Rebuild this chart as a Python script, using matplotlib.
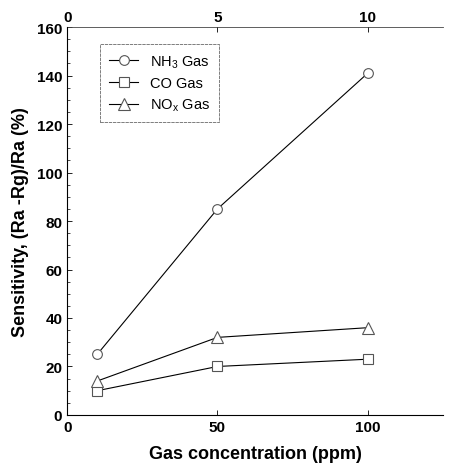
import matplotlib
matplotlib.use("Agg")
import matplotlib.pyplot as plt
from matplotlib.ticker import MultipleLocator

plt.rcParams['font.family'] = ['Liberation Sans', 'DejaVu Sans']
plt.rcParams['mathtext.fontset'] = 'custom'
plt.rcParams['mathtext.rm'] = 'Liberation Sans'

# gas concentration (ppm) and sensitivity (%)
conc = [10, 50, 100]
nh3 = [25, 85, 141]
co = [10, 20, 23]
nox = [14, 32, 36]
top_ticks = [0, 5, 10]

fig = plt.figure(figsize=(4.51, 4.77), dpi=100)
ax = fig.add_axes([0.149, 0.128, 0.833, 0.813])

ax.plot(conc, nh3, '-', color='black', lw=0.8, marker='o', ms=7,
        mfc='white', mec='#555555', mew=0.8, label='NH$_\\mathrm{3}$ Gas')
ax.plot(conc, co, '-', color='black', lw=0.8, marker='s', ms=7,
        mfc='white', mec='#555555', mew=0.8, label='CO Gas')
ax.plot(conc, nox, '-', color='black', lw=0.8, marker='^', ms=8,
        mfc='white', mec='#555555', mew=0.8, label='NO$_\\mathrm{x}$ Gas')

ax.set_xlim(0, 125)
ax.set_ylim(0, 160)
ax.xaxis.set_major_locator(MultipleLocator(50))
ax.yaxis.set_major_locator(MultipleLocator(20))
ax.yaxis.set_minor_locator(MultipleLocator(5))
ax.tick_params(direction='in', labelsize=11, width=0.6)
ax.tick_params(which='minor', direction='in', length=2, width=0.5)
for lab in ax.get_xticklabels() + ax.get_yticklabels():
    lab.set_fontweight('bold')
ax.spines['right'].set_visible(False)
for s in ['left', 'bottom', 'top']:
    ax.spines[s].set_linewidth(0.6)
    ax.spines[s].set_linestyle((0, (4, 1)))
    ax.spines[s].set_color('#444444')

ax.set_xlabel('Gas concentration (ppm)', fontsize=13, fontweight='bold', labelpad=8)
ax.set_ylabel('Sensitivity, (Ra -Rg)/Ra (%)', fontsize=13, fontweight='bold', labelpad=6)

top = ax.twiny()
top.set_xlim(0, 12.5)
top.set_xticks(top_ticks)
top.tick_params(direction='in', labelsize=11, width=0.6, pad=2)
for lab in top.get_xticklabels():
    lab.set_fontweight('bold')
top.spines['right'].set_visible(False)
top.spines['top'].set_visible(False)

leg = ax.legend(loc='upper left', bbox_to_anchor=(0.088, 0.956), borderaxespad=0,
                fontsize=10.5, frameon=True, fancybox=False, edgecolor='#444444',
                handlelength=2.0, borderpad=0.6, labelspacing=0.45)
leg.get_frame().set_linewidth(0.6)
leg.get_frame().set_linestyle((0, (4, 1)))

fig.savefig('out.png', dpi=100)
